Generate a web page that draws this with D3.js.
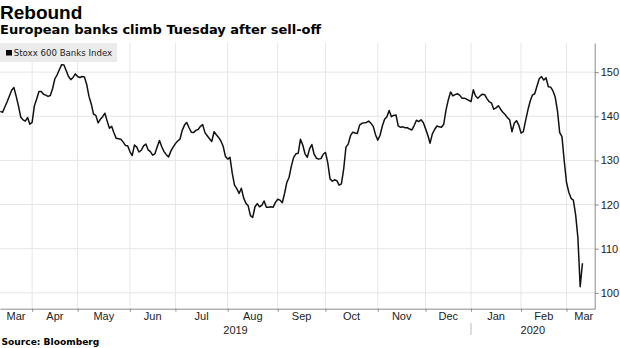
<!DOCTYPE html>
<html>
<head>
<meta charset="utf-8">
<script src="https://cdn.jsdelivr.net/npm/d3@7"></script>
<style>
  html, body { margin: 0; padding: 0; background: #fff; }
  svg { display: block; }
</style>
</head>
<body>
<svg id="chart" width="620" height="348"></svg>
<script>
// ---------- DATA ----------
const title = "Rebound";
const subtitle = "European banks climb Tuesday after sell-off";
const seriesName = "Stoxx 600 Banks Index";
const source = "Source: Bloomberg";

// trading calendar (one value per trading day, Mar 11 2019 .. Mar 10 2020)
const firstDay = "2019-03-11";
const lastDay = "2020-03-10";
const holidays = ["2019-04-19", "2019-04-22", "2019-12-25", "2019-12-26", "2020-01-01"];

const yTicks = [100, 110, 120, 130, 140, 150];
const monthNames = ["Jan","Feb","Mar","Apr","May","Jun","Jul","Aug","Sep","Oct","Nov","Dec"];

// Stoxx 600 Banks Index closing values
const values = [
  141.1, 140.9, 142.1, 143.3, 144.6, 145.9, 146.5, 144.5, 142.3, 139.8,
  139.2, 138.9, 139.7, 138.2, 138.6, 142.4, 143.9, 145.6, 145.6, 145.0,
  144.8, 144.5, 144.7, 146.3, 148.5, 149.4, 150.6, 151.7, 151.6, 150.3,
  149.0, 148.3, 148.8, 149.6, 149.0, 148.8, 149.0, 148.9, 147.2, 144.5,
  142.8, 140.5, 140.2, 138.5, 139.3, 139.9, 140.7, 138.9, 137.3, 137.7,
  136.2, 135.0, 134.9, 134.8, 134.2, 133.4, 133.3, 132.0, 131.1, 133.5,
  133.0, 131.9, 132.3, 133.3, 133.7, 132.4, 132.0, 131.2, 131.5, 133.1,
  134.5, 133.1, 132.0, 131.3, 130.8, 132.1, 133.0, 133.8, 134.4, 134.8,
  136.8, 138.0, 138.6, 137.4, 136.4, 136.3, 136.8, 137.0, 137.7, 138.1,
  136.3, 135.6, 134.9, 134.3, 136.5, 135.8, 135.2, 134.4, 133.2, 130.9,
  130.3, 130.7, 127.1, 124.4, 123.6, 122.5, 123.7, 121.5, 120.3, 119.7,
  117.5, 117.1, 119.5, 120.2, 119.5, 119.8, 120.8, 119.4, 119.4, 119.5,
  119.4, 120.5, 121.2, 121.0, 120.4, 122.5, 125.0, 126.2, 128.7, 130.7,
  131.5, 131.6, 134.8, 133.5, 131.5, 130.7, 132.6, 133.6, 131.4, 130.5,
  130.3, 130.4, 131.4, 131.8, 129.5, 125.8, 125.3, 125.6, 125.4, 124.4,
  124.7, 128.0, 133.0, 133.7, 135.6, 136.4, 136.2, 136.1, 138.0, 138.4,
  138.5, 138.6, 138.9, 138.4, 137.7, 135.8, 134.6, 135.7, 137.8, 139.3,
  139.9, 141.3, 139.9, 140.2, 140.3, 137.8, 137.5, 137.6, 137.4, 137.4,
  137.1, 136.9, 137.9, 139.1, 138.8, 139.2, 138.6, 137.2, 135.7, 133.9,
  136.0, 137.0, 137.8, 137.6, 137.5, 138.2, 141.4, 143.7, 145.5, 144.6,
  144.9, 145.1, 144.8, 144.1, 144.1, 143.9, 143.6, 143.3, 146.0, 144.6,
  144.1, 144.6, 145.0, 144.9, 144.0, 143.3, 143.0, 141.6, 141.9, 142.4,
  141.6, 140.9, 140.4, 139.7, 139.2, 136.5, 138.4, 139.0, 138.0, 136.2,
  136.5, 139.0, 141.4, 143.4, 144.8, 145.1, 146.8, 148.5, 149.0, 148.2,
  148.7, 146.7, 146.6, 145.8, 144.4, 141.3, 136.3, 135.4, 129.8, 125.0,
  122.8, 121.4, 121.0, 117.7, 112.5, 101.4, 106.7
];

// ---------- BUILD TRADING DAYS ----------
const parse = d3.utcParse("%Y-%m-%d");
const fmt = d3.utcFormat("%Y-%m-%d");
const holidaySet = new Set(holidays);
const days = d3.utcDay.range(parse(firstDay), d3.utcDay.offset(parse(lastDay), 1))
  .filter(d => d.getUTCDay() !== 0 && d.getUTCDay() !== 6 && !holidaySet.has(fmt(d)));
const data = days.map((d, i) => ({ date: d, i, value: values[i] })).filter(d => d.value != null);

// ---------- LAYOUT ----------
const svg = d3.select("#chart");
const plot = { left: 0, right: 594.7, top: 43, bottom: 308.7 };
const pxPerDay = 2.274, firstX = 0.3;

const x = d3.scaleLinear()
  .domain([(plot.left - firstX) / pxPerDay, (plot.right - firstX) / pxPerDay])
  .range([plot.left, plot.right]);
const y = d3.scaleLinear().domain([96.4, 156.6]).range([plot.bottom, plot.top]);

const FONT = "'Liberation Sans', Arial, sans-serif";
const gridColor = "#e6e6e6";
const axisColor = "#8c8c8c";

// month boundaries: last trading day of each month
const bounds = [];
for (let k = 0; k < days.length - 1; k++) {
  if (days[k].getUTCMonth() !== days[k + 1].getUTCMonth()) bounds.push(k);
}

// ---------- GRID ----------
const grid = svg.append("g");
grid.selectAll("line.h").data(yTicks).join("line")
  .attr("x1", plot.left).attr("x2", plot.right)
  .attr("y1", d => y(d)).attr("y2", d => y(d))
  .attr("stroke", gridColor).attr("stroke-width", 1);
grid.selectAll("line.v").data(bounds).join("line")
  .attr("x1", d => x(d)).attr("x2", d => x(d))
  .attr("y1", plot.top).attr("y2", plot.bottom)
  .attr("stroke", gridColor).attr("stroke-width", 1);

// ---------- LINE ----------
const line = d3.line().x(d => x(d.i)).y(d => y(d.value));
svg.append("path").datum(data)
  .attr("d", line)
  .attr("fill", "none")
  .attr("stroke", "#111")
  .attr("stroke-width", 1.5)
  .attr("stroke-linejoin", "round");

// ---------- Y AXIS (right) ----------
const yAxis = d3.axisRight(y).tickValues(yTicks).tickSize(4).tickSizeOuter(0).tickPadding(2);
const gy = svg.append("g").attr("transform", `translate(${plot.right},0)`).call(yAxis);
gy.select(".domain").attr("stroke", axisColor);
gy.selectAll(".tick line").attr("stroke", axisColor);
gy.selectAll(".tick text").attr("fill", "#222").style("font", `11px ${FONT}`);

// ---------- X AXIS (bottom) ----------
const xAxis = d3.axisBottom(x).tickValues(bounds).tickSize(3).tickSizeOuter(0).tickFormat("");
const gx = svg.append("g").attr("transform", `translate(0,${plot.bottom})`).call(xAxis);
gx.select(".domain").attr("stroke", axisColor);
gx.selectAll(".tick line").attr("stroke", axisColor);

// month labels
const edges = [plot.left, ...bounds.map(b => x(b)), plot.right];
const monthLabels = [];
for (let k = 0; k < edges.length - 1; k++) {
  const dayIdx = k === 0 ? 0 : bounds[k - 1] + 1;
  const last = k === edges.length - 2;
  monthLabels.push({
    name: monthNames[days[dayIdx].getUTCMonth()],
    x: last ? edges[k + 1] - 1.5 : (edges[k] + edges[k + 1]) / 2,
    anchor: last ? "end" : "middle"
  });
}
svg.append("g").selectAll("text").data(monthLabels).join("text")
  .attr("x", d => d.x).attr("y", 320)
  .attr("text-anchor", d => d.anchor)
  .attr("fill", "#222")
  .style("font", `11px ${FONT}`)
  .text(d => d.name);

// year labels
const yearBreak = bounds.find(b => days[b].getUTCFullYear() !== days[b + 1].getUTCFullYear());
const years = [
  { label: "2019", x0: plot.left, x1: x(yearBreak) },
  { label: "2020", x0: x(yearBreak), x1: plot.right }
];
svg.append("g").selectAll("text").data(years).join("text")
  .attr("x", d => (d.x0 + d.x1) / 2).attr("y", 334)
  .attr("text-anchor", "middle")
  .attr("fill", "#222")
  .style("font", `11px ${FONT}`)
  .text(d => d.label);
svg.append("line")
  .attr("x1", x(yearBreak)).attr("x2", x(yearBreak))
  .attr("y1", 323).attr("y2", 335)
  .attr("stroke", "#bbb").attr("stroke-width", 1);

// ---------- LEGEND ----------
const lg = svg.append("g");
lg.append("rect").attr("x", 0).attr("y", 43).attr("width", 117).attr("height", 19).attr("fill", "#ebebeb");
lg.append("rect").attr("x", 6).attr("y", 50).attr("width", 6).attr("height", 5.5).attr("fill", "#000");
lg.append("text").attr("x", 13.8).attr("y", 56.2)
  .attr("fill", "#222").style("font", "8.6px 'DejaVu Sans', Verdana, sans-serif").text(seriesName);

// ---------- TITLES ----------
svg.append("text").attr("x", 0).attr("y", 19.3)
  .attr("fill", "#000").style("font", `bold 19px ${FONT}`).text(title);
svg.append("text").attr("x", 0).attr("y", 34.3)
  .attr("fill", "#000").style("font", "bold 13px 'DejaVu Sans', Verdana, sans-serif").text(subtitle);
svg.append("text").attr("x", 1.5).attr("y", 344.5)
  .attr("fill", "#000").style("font", "bold 9.1px 'DejaVu Sans', Verdana, sans-serif").text(source);
</script>
</body>
</html>
